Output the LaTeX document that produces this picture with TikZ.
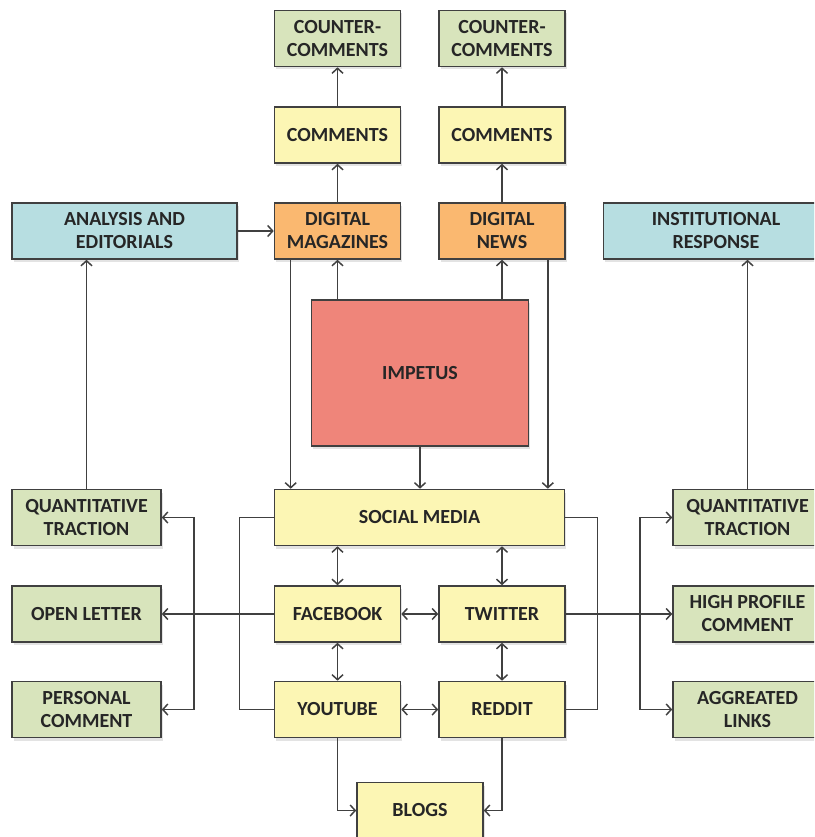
\documentclass[tikz,border=0pt]{standalone}
\usepackage{fontspec}
\setmainfont{Carlito}
\usepackage{tikz}
\usetikzlibrary{positioning}
\usetikzlibrary{arrows.meta}
\usetikzlibrary{calc}
\usetikzlibrary{shadows}
\definecolor{color-green}{RGB}{216,228,188}
\definecolor{color-yellow}{RGB}{252,246,180}
\definecolor{color-orange}{RGB}{250,184,112}
\definecolor{color-cyan}{RGB}{183,222,225}
\definecolor{color-red}{RGB}{239,133,122}
\definecolor{color-line}{RGB}{64,64,64}
\definecolor{color-text}{RGB}{38,38,38}

\begin{document}
\begin{tikzpicture}[x=1pt, y=-1pt, >={Straight Barb[length=5pt,width=11pt]},
box/.style={draw=color-line, line width=1.6pt, fill=#1, text=color-text, align=center,
  font=\fontsize{20}{23}\selectfont\bfseries, inner sep=0pt,
  minimum width=126pt, minimum height=56pt,
  drop shadow={shadow xshift=1.5pt, shadow yshift=-3pt, opacity=0.22}},
side/.style={box=#1, minimum width=149pt},
wide/.style={box=#1, minimum width=225pt},
wire/.style={draw=color-line, line width=1.5pt}]

\useasboundingbox (0,0) rectangle (814,837);
\clip (0,0) rectangle (814,837);

% top rows
\node [box=color-green](cc1) at (337.5,38.5) {COUNTER-\\COMMENTS};
\node [box=color-green](cc2) at (502,38.5) {COUNTER-\\COMMENTS};
\node [box=color-yellow](cm1) at (337.5,135) {COMMENTS};
\node [box=color-yellow](cm2) at (502,135) {COMMENTS};

% media row
\node [wide=color-cyan](an) at (124.5,231) {ANALYSIS AND\\EDITORIALS};
\node [box=color-orange](dm) at (337.5,231) {DIGITAL\\MAGAZINES};
\node [box=color-orange](dn) at (502,231) {DIGITAL\\NEWS};
\node [wide=color-cyan](ir) at (716,231) {INSTITUTIONAL\\RESPONSE};

% impetus
\node [box=color-red, minimum width=217pt, minimum height=146pt](imp) at (420,373) {IMPETUS};

% social media block
\node [box=color-yellow, minimum width=290pt](sm) at (419.5,517.5) {SOCIAL MEDIA};
\node [box=color-yellow](fb) at (337.5,614) {FACEBOOK};
\node [box=color-yellow](tw) at (502,614) {TWITTER};
\node [box=color-yellow](yt) at (337.5,709.5) {YOUTUBE};
\node [box=color-yellow](rd) at (502,709.5) {REDDIT};
\node [box=color-yellow](bl) at (420,810.5) {BLOGS};

% left column
\node [side=color-green](qtl) at (86.5,517.5) {QUANTITATIVE\\TRACTION};
\node [side=color-green](ol) at (86.5,614) {OPEN LETTER};
\node [side=color-green](pc) at (86.5,709.5) {PERSONAL\\COMMENT};

% right column
\node [side=color-green](qtr) at (747.5,517.5) {QUANTITATIVE\\TRACTION};
\node [side=color-green](hp) at (747.5,614) {HIGH PROFILE\\COMMENT};
\node [side=color-green](al) at (747.5,709.5) {AGGREATED\\LINKS};

% comments chains
\draw[wire,->] (dm.north) -- (cm1.south);
\draw[wire,->] (cm1.north) -- (cc1.south);
\draw[wire,->] (dn.north) -- (cm2.south);
\draw[wire,->] (cm2.north) -- (cc2.south);

% impetus out
\draw[wire,->] (imp.north -| dm.south) -- (dm.south);
\draw[wire,->] (imp.north -| dn.south) -- (dn.south);
\draw[wire,->] (imp.south) -- (imp.south |- sm.north);
\draw[wire,->] ([xshift=17pt]dm.south west) -- ([xshift=17pt]dm.south west |- sm.north);
\draw[wire,->] ([xshift=-18pt]dn.south east) -- ([xshift=-18pt]dn.south east |- sm.north);

% analysis and response
\draw[wire,->] (an.east) -- (dm.west);
\draw[wire,->] (qtl.north) -- (qtl.north |- an.south);
\draw[wire,->] (qtr.north) -- (qtr.north |- ir.south);

% inside social media
\draw[wire,<->] (sm.south -| fb) -- (fb.north);
\draw[wire,<->] (sm.south -| tw) -- (tw.north);
\draw[wire,<->] (fb) -- (tw);
\draw[wire,<->] (fb) -- (yt);
\draw[wire,<->] (tw) -- (rd);
\draw[wire,<->] (yt) -- (rd);
\draw[wire,->] (yt.south) |- (bl.west);
\draw[wire,->] (rd.south) |- (bl.east);

% brackets left
\draw[wire] (sm.west) -- ++(-34,0) |- (yt.west);
\draw[wire,->] (fb.west) -- (ol.east);
\draw[wire,<->] (qtl.east) -- ++(32,0) |- (pc.east);

% brackets right
\draw[wire] (sm.east) -- ++(32,0) |- (rd.east);
\draw[wire,->] (tw.east) -- (hp.west);
\draw[wire,<->] (qtr.west) -- ++(-32,0) |- (al.west);

\end{tikzpicture}
\end{document}
